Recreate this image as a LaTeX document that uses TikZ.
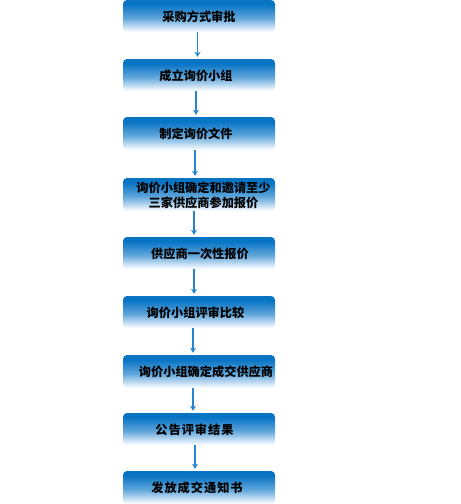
\documentclass[tikz,border=0pt]{standalone}
\usepackage{fontspec}
\newfontfamily\cjk{Noto Sans CJK SC}
\newfontfamily\cjksp{Noto Sans CJK SC}[LetterSpace=8]
\usetikzlibrary{arrows.meta}
\definecolor{btop}{RGB}{8,116,196}
\definecolor{bmid}{RGB}{95,165,218}
\definecolor{bbot}{RGB}{242,248,253}
\definecolor{arrowc}{RGB}{40,132,204}
\pgfdeclareverticalshading{boxshade}{100bp}{color(0bp)=(bbot); color(27bp)=(bbot); color(47bp)=(bmid); color(68bp)=(btop); color(100bp)=(btop)}
\tikzset{
  stepbox/.style={rectangle, rounded corners=4pt, minimum width=152pt, minimum height=32pt, inner sep=0pt, shading=boxshade, draw=none},
  lbl/.style={font=\cjk\bfseries\fontsize{12.2pt}{15pt}\selectfont, text=black, inner sep=0pt, align=center},
  lblsp/.style={font=\cjksp\bfseries\fontsize{12.2pt}{15pt}\selectfont, text=black, inner sep=0pt, align=center},
  arr/.style={draw=arrowc, line width=1.3pt, -{Stealth[length=5pt,width=6pt,inset=1.5pt]}, shorten >=2pt}
}
\begin{document}
\begin{tikzpicture}[x=1pt,y=-1pt]
\useasboundingbox (0,0) rectangle (461,504);
\node[stepbox] (b1) at (199,16) {};
\node[stepbox] (b2) at (199,75) {};
\node[stepbox, minimum height=33pt] (b3) at (199,133.5) {};
\node[stepbox, minimum height=33pt] (b4) at (199,194.5) {};
\node[stepbox] (b5) at (199,253) {};
\node[stepbox] (b6) at (199,312) {};
\node[stepbox, minimum height=33pt] (b7) at (199,371.5) {};
\node[stepbox] (b8) at (199,429) {};
\node[stepbox, minimum height=33pt] (b9) at (199,487.5) {};
\node[lbl] (t1) at (199,17) {采购方式审批};
\node[lbl] (t2) at (196,76) {成立询价小组};
\node[lbl] (t3) at (196,134) {制定询价文件};
\node[lbl] (t4) at (203.5,195) {询价小组确定和邀请至少\\三家供应商参加报价};
\node[lbl] (t5) at (200,253.5) {供应商一次性报价};
\node[lbl] (t6) at (195.5,312.5) {询价小组评审比较};
\node[lbl] (t7) at (206,372) {询价小组确定成交供应商};
\node[lblsp] (t8) at (194.5,430) {公告评审结果};
\node[lblsp] (t9) at (197,488) {发放成交通知书};
\coordinate (a1) at (197.5,0);
\coordinate (a2) at (196,0);
\coordinate (a3) at (195,0);
\coordinate (a4) at (194,0);
\coordinate (a5) at (194,0);
\coordinate (a6) at (193,0);
\coordinate (a7) at (193,0);
\coordinate (a8) at (195,0);
\draw[arr] (b1.south -| a1) -- (b2.north -| a1);
\draw[arr] (b2.south -| a2) -- (b3.north -| a2);
\draw[arr] (b3.south -| a3) -- (b4.north -| a3);
\draw[arr] (b4.south -| a4) -- (b5.north -| a4);
\draw[arr] (b5.south -| a5) -- (b6.north -| a5);
\draw[arr] (b6.south -| a6) -- (b7.north -| a6);
\draw[arr] (b7.south -| a7) -- (b8.north -| a7);
\draw[arr] (b8.south -| a8) -- (b9.north -| a8);
\end{tikzpicture}
\end{document}
